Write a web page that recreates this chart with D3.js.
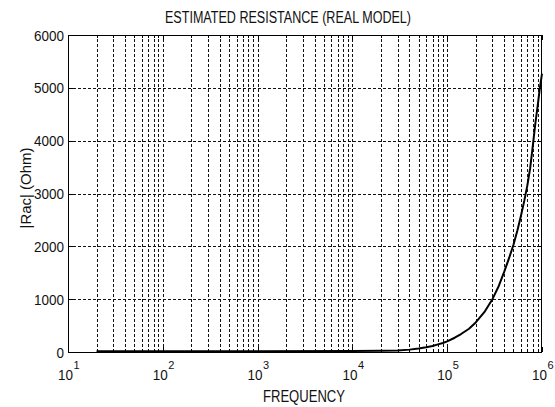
<!DOCTYPE html>
<html>
<head>
<meta charset="utf-8">
<script src="https://cdn.jsdelivr.net/npm/d3@7"></script>
<style>
  html, body { margin: 0; padding: 0; background: #fff; }
  svg { display: block; font-family: "Liberation Sans", Arial, sans-serif; }
</style>
</head>
<body>
<svg id="chart" width="555" height="407"></svg>
<script>
// ---- data ----
const frequency = [20, 100, 1000, 10000, 20000, 30000, 40000, 50000, 60000, 70000, 80000, 90000,
  100000, 120000, 140000, 170000, 200000, 250000, 300000, 350000, 400000, 450000, 500000,
  550000, 600000, 650000, 700000, 750000, 800000, 850000, 900000, 950000, 1000000];
const racOhm = [15, 15, 15, 18, 22, 30, 45, 65, 90, 115, 145, 170,
  200, 270, 340, 440, 560, 770, 1000, 1250, 1520, 1780, 2030,
  2300, 2580, 2860, 3150, 3480, 3900, 4320, 4660, 5000, 5270];
const xTickExponents = [1, 2, 3, 4, 5, 6];
const yTickValues = [0, 1000, 2000, 3000, 4000, 5000, 6000];
const titleText = "ESTIMATED RESISTANCE (REAL MODEL)";
const xLabelText = "FREQUENCY";
const yLabelText = "|Rac| (Ohm)";

(function () {
// ---- layout ----
const pL = 68, pR = 542, pT = 35, pB = 352;
const svg = d3.select("#chart");
svg.append("rect").attr("width", 555).attr("height", 407).attr("fill", "#fff");

const x = d3.scaleLog().domain([10, 1e6]).range([pL, pR]);
const y = d3.scaleLinear().domain([0, 6000]).range([pB, pT]);

const px = v => Math.round(v) + 0.5;

// minor + major x positions
const xMinor = [];
for (let e = 1; e < 6; e++) for (let m = 2; m <= 9; m++) xMinor.push(m * Math.pow(10, e));
const xMajor = xTickExponents.map(e => Math.pow(10, e));

const grid = svg.append("g").attr("stroke", "#111").attr("stroke-width", 1)
  .attr("stroke-dasharray", "3,2").attr("fill", "none");
grid.selectAll("line.v").data(xMinor.concat(xMajor.slice(1, -1))).join("line")
  .attr("x1", d => px(x(d))).attr("x2", d => px(x(d)))
  .attr("y1", pB).attr("y2", pT);
grid.selectAll("line.h").data(yTickValues.slice(1, -1)).join("line")
  .attr("x1", pL).attr("x2", pR)
  .attr("y1", d => px(y(d))).attr("y2", d => px(y(d)));

// tick marks (inward, on all four sides)
const ticks = svg.append("g").attr("stroke", "#000").attr("stroke-width", 1);
const xTickData = xMinor.map(v => ({v, len: 3})).concat(xMajor.map(v => ({v, len: 5})));
ticks.selectAll("line.tb").data(xTickData).join("line")
  .attr("x1", d => px(x(d.v))).attr("x2", d => px(x(d.v)))
  .attr("y1", pB).attr("y2", d => pB - d.len);
ticks.selectAll("line.tt").data(xTickData).join("line")
  .attr("x1", d => px(x(d.v))).attr("x2", d => px(x(d.v)))
  .attr("y1", pT).attr("y2", d => pT + d.len);
ticks.selectAll("line.tl").data(yTickValues).join("line")
  .attr("x1", pL).attr("x2", pL + 5)
  .attr("y1", d => px(y(d))).attr("y2", d => px(y(d)));
ticks.selectAll("line.tr").data(yTickValues).join("line")
  .attr("x1", pR).attr("x2", pR - 5)
  .attr("y1", d => px(y(d))).attr("y2", d => px(y(d)));

// frame
svg.append("rect").attr("x", pL + 0.5).attr("y", pT + 0.5)
  .attr("width", pR - pL - 1).attr("height", pB - pT)
  .attr("fill", "none").attr("stroke", "#000").attr("stroke-width", 1);

// data line
const line = d3.line().x((d, i) => x(frequency[i])).y(d => y(d));
svg.append("path").datum(racOhm)
  .attr("d", line).attr("fill", "none")
  .attr("stroke", "#000").attr("stroke-width", 2)
  .attr("stroke-linejoin", "round");

function fit(sel, width) {
  sel.attr("textLength", width).attr("lengthAdjust", "spacingAndGlyphs");
  return sel;
}

// y tick labels
const yl = svg.append("g").attr("font-size", 15).attr("fill", "#111");
yTickValues.forEach(v => {
  const s = String(v);
  const t = yl.append("text").attr("x", 64).attr("y", y(v) + 5.5)
    .attr("text-anchor", "end").text(s);
  fit(t, s.length * 7.5);
});

// x tick labels: 10^n
const xl = svg.append("g").attr("fill", "#111");
xTickExponents.forEach(e => {
  const cx = x(Math.pow(10, e));
  const base = xl.append("text").attr("x", cx - 10).attr("y", 380)
    .attr("font-size", 15).text("10");
  fit(base, 15);
  xl.append("text").attr("x", cx + 5.5).attr("y", 369)
    .attr("font-size", 11).text(String(e));
});

// title and axis labels
fit(svg.append("text").attr("x", 288).attr("y", 23).attr("text-anchor", "middle")
  .attr("font-size", 16).attr("fill", "#111").text(titleText), 246);
fit(svg.append("text").attr("x", 304).attr("y", 402).attr("text-anchor", "middle")
  .attr("font-size", 16).attr("fill", "#111").text(xLabelText), 82);
fit(svg.append("text").attr("transform", "translate(31,188) rotate(-90)")
  .attr("text-anchor", "middle").attr("font-size", 15).attr("fill", "#111")
  .text(yLabelText), 81);
})();
</script>
</body>
</html>
